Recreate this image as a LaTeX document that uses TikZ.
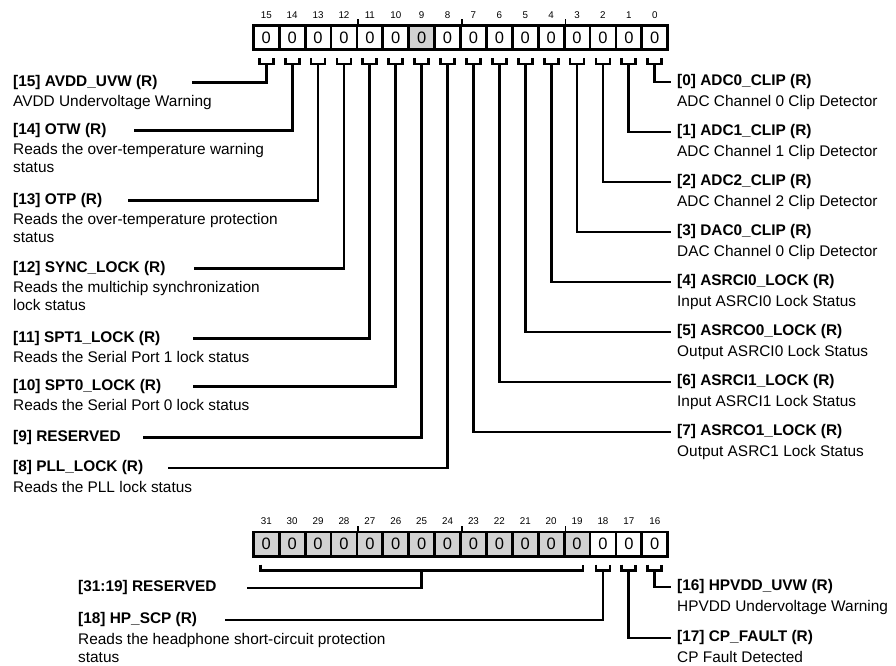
\documentclass[tikz,border=0pt]{standalone}
\usepackage{fontspec}
\setmainfont{Liberation Sans}
\usetikzlibrary{positioning}

\tikzset{
    regcell/.style={draw, line width=2.8pt, minimum width=25.9pt, minimum height=24.2pt, inner sep=0pt, font=\fontsize{16.5}{18}\selectfont},
    bitnum/.style={inner sep=0pt, font=\fontsize{9.8}{11}\selectfont},
    fieldname/.style={anchor=west, inner sep=0pt, font=\fontsize{15.4}{18}\selectfont\bfseries},
    fielddesc/.style={anchor=north west, inner sep=0pt, align=left, font=\fontsize{15.4}{18}\selectfont},
    lead/.style={line width=2.8pt},
    nibble/.style={line width=1.8pt}
}

\begin{document}
\begin{tikzpicture}[x=1pt, y=-1pt]
    \useasboundingbox (0,0) rectangle (896,665);

    % --- register bits 15..0 ---
    \foreach \b in {0,...,15} {
        \pgfmathsetmacro\cx{253.3+(15-\b)*25.9+12.95}
        \pgfmathsetmacro\gr{\b==9 ? 35 : 0}
        \node [regcell, fill=gray!\gr] (r\b) at (\cx,37.5) {0};
        \node [bitnum, above=9pt of r\b.north, anchor=center] (n\b) {\b};
        \draw [lead] ([shift={(-7pt,-7pt)}]r\b.south) |- ([yshift=-13pt]r\b.south) -| ([shift={(7pt,-7pt)}]r\b.south);
        \coordinate (k\b) at ([yshift=-13pt]r\b.south);
    }
    \foreach \b in {12,8,4}
        \draw [nibble] (r\b.north east) -- ++(0,5pt);

    % --- register bits 31..16 ---
    \foreach \b in {16,...,31} {
        \pgfmathsetmacro\cx{253.3+(31-\b)*25.9+12.95}
        \pgfmathsetmacro\gr{\b>18 ? 35 : 0}
        \node [regcell, fill=gray!\gr] (r\b) at (\cx,544) {0};
        \node [bitnum, above=9pt of r\b.north, anchor=center] (n\b) {\b};
    }
    \foreach \b in {28,24,20}
        \draw [nibble] (r\b.north east) -- ++(0,5pt);
    \foreach \b in {16,17,18} {
        \draw [lead] ([shift={(-7pt,-7pt)}]r\b.south) |- ([yshift=-13pt]r\b.south) -| ([shift={(7pt,-7pt)}]r\b.south);
        \coordinate (k\b) at ([yshift=-13pt]r\b.south);
    }
    \draw [lead] ([shift={(-6pt,-7pt)}]r31.south) |- ([yshift=-13pt]r25.south) -| ([shift={(6pt,-7pt)}]r19.south);
    \coordinate (kres) at ([yshift=-13pt]r25.south);

    % --- left fields ---
    \node [fieldname] (f15) at (13,82.7) {[15] AVDD\_UVW (R)};
    \node [below=5.5pt of f15.south west, fielddesc] (d15) {AVDD Undervoltage Warning};
    \node [fieldname] (f14) at (13,130.7) {[14] OTW (R)};
    \node [below=5.5pt of f14.south west, fielddesc] (d14) {Reads the over-temperature warning\\status};
    \node [fieldname] (f13) at (13,200.7) {[13] OTP (R)};
    \node [below=5.5pt of f13.south west, fielddesc] (d13) {Reads the over-temperature protection\\status};
    \node [fieldname] (f12) at (13,268.3) {[12] SYNC\_LOCK (R)};
    \node [below=5.5pt of f12.south west, fielddesc] (d12) {Reads the multichip synchronization\\lock status};
    \node [fieldname] (f11) at (13,338.3) {[11] SPT1\_LOCK (R)};
    \node [below=5.5pt of f11.south west, fielddesc] (d11) {Reads the Serial Port 1 lock status};
    \node [fieldname] (f10) at (13,386.7) {[10] SPT0\_LOCK (R)};
    \node [below=5.5pt of f10.south west, fielddesc] (d10) {Reads the Serial Port 0 lock status};
    \node [fieldname] (f9) at (13,437.5) {[9] RESERVED};
    \node [fieldname] (f8) at (13,468) {[8] PLL\_LOCK (R)};
    \node [below=5.5pt of f8.south west, fielddesc] (d8) {Reads the PLL lock status};

    \draw [lead] (k15) |- ([xshift=34pt]f15.east);
    \draw [lead] (k14) |- ([xshift=27pt]f14.east);
    \draw [lead] (k13) |- ([xshift=26pt]f13.east);
    \draw [lead] (k12) |- ([xshift=28.7pt]f12.east);
    \draw [lead] (k11) |- ([xshift=32pt]f11.east);
    \draw [lead] (k10) |- ([xshift=32pt]f10.east);
    \draw [lead] (k9) |- ([xshift=22pt]f9.east);
    \draw [lead] (k8) |- ([xshift=25pt]f8.east);

    % --- right fields ---
    \node [fieldname] (f0) at (677,82) {[0] ADC0\_CLIP (R)};
    \node [below=5.5pt of f0.south west, fielddesc] (d0) {ADC Channel 0 Clip Detector};
    \node [fieldname] (f1) at (677,132) {[1] ADC1\_CLIP (R)};
    \node [below=5.5pt of f1.south west, fielddesc] (d1) {ADC Channel 1 Clip Detector};
    \node [fieldname] (f2) at (677,182) {[2] ADC2\_CLIP (R)};
    \node [below=5.5pt of f2.south west, fielddesc] (d2) {ADC Channel 2 Clip Detector};
    \node [fieldname] (f3) at (677,232) {[3] DAC0\_CLIP (R)};
    \node [below=5.5pt of f3.south west, fielddesc] (d3) {DAC Channel 0 Clip Detector};
    \node [fieldname] (f4) at (677,282) {[4] ASRCI0\_LOCK (R)};
    \node [below=5.5pt of f4.south west, fielddesc] (d4) {Input ASRCI0 Lock Status};
    \node [fieldname] (f5) at (677,332) {[5] ASRCO0\_LOCK (R)};
    \node [below=5.5pt of f5.south west, fielddesc] (d5) {Output ASRCI0 Lock Status};
    \node [fieldname] (f6) at (677,382) {[6] ASRCI1\_LOCK (R)};
    \node [below=5.5pt of f6.south west, fielddesc] (d6) {Input ASRCI1 Lock Status};
    \node [fieldname] (f7) at (677,432) {[7] ASRCO1\_LOCK (R)};
    \node [below=5.5pt of f7.south west, fielddesc] (d7) {Output ASRC1 Lock Status};

    \foreach \b in {0,...,7}
        \draw [lead] (k\b) |- ([xshift=-6.5pt]f\b.west);

    % --- lower register fields ---
    \node [fieldname] (fres) at (78,588) {[31:19] RESERVED};
    \node [fieldname] (f18) at (78,620) {[18] HP\_SCP (R)};
    \node [below=5.5pt of f18.south west, fielddesc] (d18) {Reads the headphone short-circuit protection\\status};
    \node [fieldname] (f16) at (677,587) {[16] HPVDD\_UVW (R)};
    \node [below=5.5pt of f16.south west, fielddesc] (d16) {HPVDD Undervoltage Warning};
    \node [fieldname] (f17) at (677,638) {[17] CP\_FAULT (R)};
    \node [below=5.5pt of f17.south west, fielddesc] (d17) {CP Fault Detected};

    \draw [lead] (kres) |- ([xshift=30pt]fres.east);
    \draw [lead] (k18) |- ([xshift=28pt]f18.east);
    \draw [lead] (k16) |- ([xshift=-6.5pt]f16.west);
    \draw [lead] (k17) |- ([xshift=-6.5pt]f17.west);

\end{tikzpicture}
\end{document}
